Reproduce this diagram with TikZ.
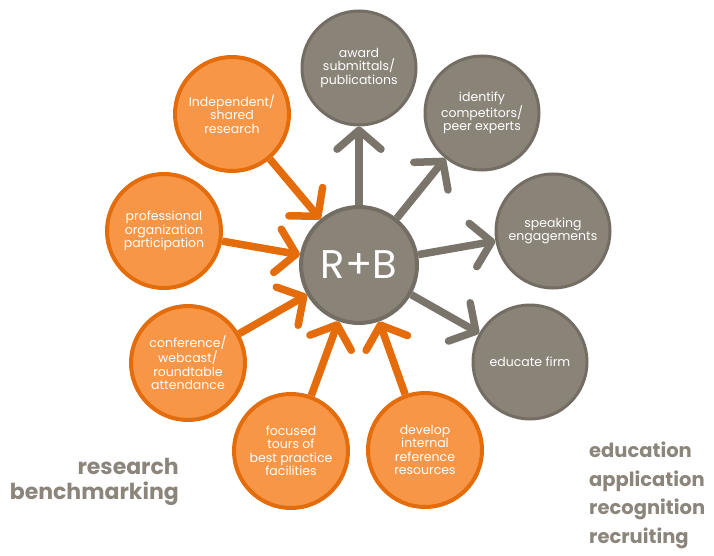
\documentclass[tikz,border=0pt]{standalone}
\usepackage{fontspec}
\setmainfont{Poppins}
\usetikzlibrary{arrows.meta}

\definecolor{rborange}{HTML}{F79646}
\definecolor{rborangedark}{HTML}{E46C0A}
\definecolor{rbgray}{HTML}{8A8378}
\definecolor{rbgraydark}{HTML}{736D64}
\definecolor{rbarrow}{HTML}{7A746B}
\definecolor{rbtext}{HTML}{8C857B}

\tikzset{
	ball/.style={circle, minimum size=114pt, inner sep=0pt, align=center,
		text=white, font=\fontsize{12.5}{13.5}\selectfont},
	orangeball/.style={ball, fill=rborange, draw=rborangedark, line width=4pt},
	grayball/.style={ball, fill=rbgray, draw=rbgraydark, line width=3pt},
	hub/.style={circle, minimum size=116pt, inner sep=0pt, fill=rbgray,
		draw=rbgraydark, line width=4pt, text=white, font=\fontsize{40}{44}\selectfont},
	inarrow/.style={draw=rborangedark, line width=7.5pt,
		-{Straight Barb[length=19pt,width=44pt,round]}},
	outarrow/.style={draw=rbarrow, line width=7.5pt,
		-{Straight Barb[length=19pt,width=44pt,round]}},
	sidelabel/.style={text=rbtext, font=\bfseries, inner sep=0pt}
}

\begin{document}
\begin{tikzpicture}[x=1pt, y=-1pt]
		\useasboundingbox (0,0) rectangle (714,556);

		% centre
		\node [hub] (rb) at (359,265) {R+B};

		% what goes in
		\node [orangeball] (indep) at (232,114) {Independent/\\shared\\research};
		\node [orangeball] (prof) at (164,231) {professional\\organization\\participation};
		\node [orangeball] (conf) at (188,363) {conference/\\webcast/\\roundtable\\attendance};
		\node [orangeball] (tours) at (291,451) {focused\\tours of\\best practice\\facilities};
		\node [orangeball] (devel) at (425,450) {develop\\internal\\reference\\resources};

		% what comes out
		\node [grayball] (award) at (359,68) {award\\submittals/\\publications};
		\node [grayball] (ident) at (482,113) {identify\\competitors/\\peer experts};
		\node [grayball] (speak) at (553,231) {speaking\\engagements};
		\node [grayball] (educ) at (530,362) {educate firm};

		\foreach \src in {indep,prof,conf,tours,devel}
			\draw [inarrow] (\src) -- (rb);
		\foreach \dst in {award,ident,speak,educ}
			\draw [outarrow] (rb) -- (\dst);

		\node [sidelabel, anchor=north east, align=right,
			font=\bfseries\fontsize{22}{25}\selectfont] (bench) at (179,458)
			{research\\benchmarking};
		\node [sidelabel, anchor=north west, align=left,
			font=\bfseries\fontsize{19.5}{28.5}\selectfont] (uses) at (589,442)
			{education\\application\\recognition\\recruiting};
	\end{tikzpicture}
\end{document}
